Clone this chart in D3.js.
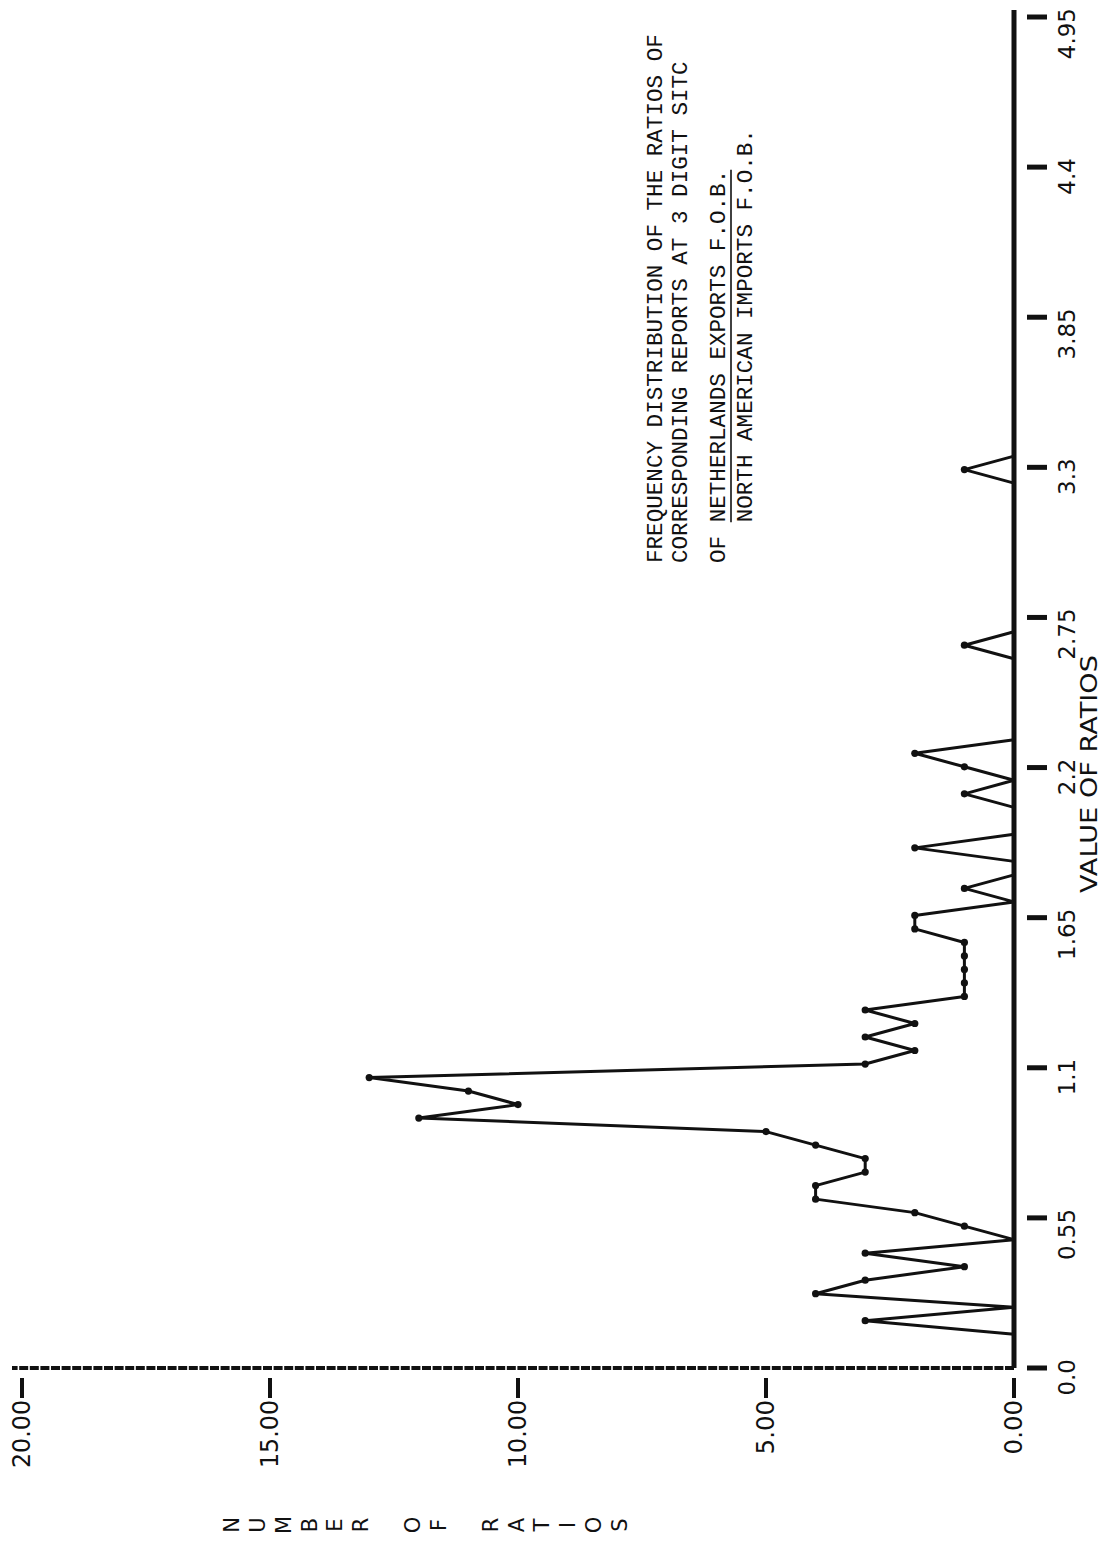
<!DOCTYPE html>
<html>
<head>
<meta charset="utf-8">
<script src="https://cdn.jsdelivr.net/npm/d3@7"></script>
<style>
  html, body { margin: 0; padding: 0; background: #fff; }
  svg { display: block; }
</style>
</head>
<body>
<script>
// Frequency polygon: bin midpoints of the export/import ratio and the number of
// 3-digit SITC items falling in each bin.
const ratioMid = [
  0.025, 0.075, 0.125, 0.175, 0.225, 0.275, 0.325, 0.375, 0.425, 0.475,
  0.525, 0.575, 0.625, 0.675, 0.725, 0.775, 0.825, 0.875, 0.925, 0.975,
  1.025, 1.075, 1.125, 1.175, 1.225, 1.275, 1.325, 1.375, 1.425, 1.475,
  1.525, 1.575, 1.625, 1.675, 1.725, 1.775, 1.825, 1.875, 1.925, 1.975,
  2.025, 2.075, 2.125, 2.175, 2.225, 2.275, 2.325, 2.375, 2.425, 2.475,
  2.525, 2.575, 2.625, 2.675, 2.725, 2.775, 2.825, 2.875, 2.925, 2.975,
  3.025, 3.075, 3.125, 3.175, 3.225, 3.275, 3.325, 3.375
];
const counts = [
  0, 0, 0, 3, 0, 4, 3, 1, 3, 0,
  1, 2, 4, 4, 3, 3, 4, 5, 12, 10,
  11, 13, 3, 2, 3, 2, 3, 1, 1, 1,
  1, 1, 2, 2, 0, 1, 0, 0, 2, 0,
  0, 0, 1, 0, 1, 2, 0, 0, 0, 0,
  0, 0, 0, 1, 0, 0, 0, 0, 0, 0,
  0, 0, 0, 0, 0, 0, 1, 0
];

const ratioTickLabels = ["0.0", "0.55", "1.1", "1.65", "2.2", "2.75", "3.3", "3.85", "4.4", "4.95"];
const countTicks = [0, 5, 10, 15, 20];
const countTickLabels = ["0.00", "5.00", "10.00", "15.00", "20.00"];

const titleLines = [
  "FREQUENCY DISTRIBUTION OF THE RATIOS OF",
  "CORRESPONDING REPORTS AT 3 DIGIT SITC"
];
const fracPrefix = "OF ";
const fracNumerator = "NETHERLANDS EXPORTS F.O.B.";
const fracDenominator = "NORTH AMERICAN IMPORTS F.O.B.";
const xTitle = "VALUE OF RATIOS";
const yTitle = "NUMBER OF RATIOS";

const W = 1115, H = 1565;
const svg = d3.select("body").append("svg")
  .attr("width", W).attr("height", H)
  .attr("viewBox", `0 0 ${W} ${H}`);
svg.append("rect").attr("width", W).attr("height", H).attr("fill", "#fff");

// The plot is composed landscape (1565 wide, 1115 tall) and turned a quarter
// turn counter-clockwise onto the portrait page.
const g = svg.append("g").attr("transform", `translate(0,${H}) rotate(-90)`);

const ink = "#111";
const plotterFont = "'DejaVu Sans', sans-serif";
const typeFont = "'Liberation Mono', 'DejaVu Sans Mono', monospace";

// scales
const x = d3.scaleLinear().domain([0, 5]).range([197, 1548]);
const xTickPos = d3.scalePoint().domain(ratioTickLabels).range([197, 1548]);
const y = d3.scaleLinear().domain([0, 20]).range([1014, 22]);

// vertical (count) axis: heavy broken line at ratio 0
g.append("line")
  .attr("x1", x(0)).attr("x2", x(0))
  .attr("y1", y(0)).attr("y2", y(20) - 10)
  .attr("stroke", ink).attr("stroke-width", 4)
  .attr("stroke-dasharray", "9,1.6");

// count ticks and labels
const yTickG = g.append("g");
countTicks.forEach((t, i) => {
  yTickG.append("line")
    .attr("x1", x(0) - 30).attr("x2", x(0) - 10)
    .attr("y1", y(t)).attr("y2", y(t))
    .attr("stroke", ink).attr("stroke-width", 4);
  const lab = countTickLabels[i];
  yTickG.append("text")
    .attr("x", x(0) - 32).attr("y", y(t))
    .attr("text-anchor", "end")
    .attr("dominant-baseline", "central")
    .attr("font-family", plotterFont)
    .attr("font-size", 24)
    .attr("textLength", lab.length * 13.6)
    .attr("lengthAdjust", "spacingAndGlyphs")
    .attr("fill", ink)
    .text(lab);
});

// horizontal (ratio) axis: solid heavy line at count 0
g.append("line")
  .attr("x1", x(0)).attr("x2", x(5) + 7)
  .attr("y1", y(0)).attr("y2", y(0))
  .attr("stroke", ink).attr("stroke-width", 5);

// ratio ticks and labels
const xTickG = g.append("g");
ratioTickLabels.forEach(lab => {
  const p = xTickPos(lab);
  xTickG.append("line")
    .attr("x1", p).attr("x2", p)
    .attr("y1", y(0) + 13).attr("y2", y(0) + 33)
    .attr("stroke", ink).attr("stroke-width", 5);
  xTickG.append("text")
    .attr("x", p + 9).attr("y", y(0) + 61)
    .attr("text-anchor", "end")
    .attr("font-family", plotterFont)
    .attr("font-size", 23)
    .attr("fill", ink)
    .text(lab);
});

// axis titles
g.append("text")
  .attr("x", 672).attr("y", 1097)
  .attr("font-family", plotterFont)
  .attr("font-size", 23)
  .attr("textLength", 238)
  .attr("lengthAdjust", "spacingAndGlyphs")
  .attr("fill", ink)
  .text(xTitle);

const letters = yTitle.split("");
const letterPos = d3.scalePoint().domain(d3.range(letters.length)).range([232, 620]);
g.append("g").selectAll("text")
  .data(letters)
  .join("text")
  .attr("x", 40)
  .attr("y", (d, i) => letterPos(i))
  .attr("text-anchor", "middle")
  .attr("dominant-baseline", "central")
  .attr("font-family", plotterFont)
  .attr("font-size", 21)
  .attr("fill", ink)
  .text(d => d);

// frequency polygon
const pts = ratioMid.map((r, i) => [r, counts[i]]);
g.append("path")
  .datum(pts)
  .attr("fill", "none")
  .attr("stroke", ink)
  .attr("stroke-width", 3)
  .attr("stroke-linejoin", "round")
  .attr("d", d3.line().x(d => x(d[0])).y(d => y(d[1])));

g.append("g").selectAll("circle")
  .data(pts.filter(d => d[1] > 0))
  .join("circle")
  .attr("cx", d => x(d[0]))
  .attr("cy", d => y(d[1]))
  .attr("r", 3.6)
  .attr("fill", ink);

// typed title block
const titleG = g.append("g")
  .attr("font-family", typeFont)
  .attr("font-size", 22.6)
  .attr("fill", ink);
const titleX = 1002;
const titleBase = [662, 687];
titleLines.forEach((t, i) => {
  titleG.append("text").attr("x", titleX).attr("y", titleBase[i]).text(t);
});
const pitch = 13.56;
titleG.append("text").attr("x", titleX).attr("y", 725)
  .text(fracPrefix + fracNumerator);
const numStart = titleX + fracPrefix.length * pitch;
titleG.append("line")
  .attr("x1", numStart).attr("x2", numStart + fracNumerator.length * pitch)
  .attr("y1", 731).attr("y2", 731)
  .attr("stroke", ink).attr("stroke-width", 1.6);
titleG.append("text").attr("x", numStart).attr("y", 752)
  .text(fracDenominator);
</script>
</body>
</html>
